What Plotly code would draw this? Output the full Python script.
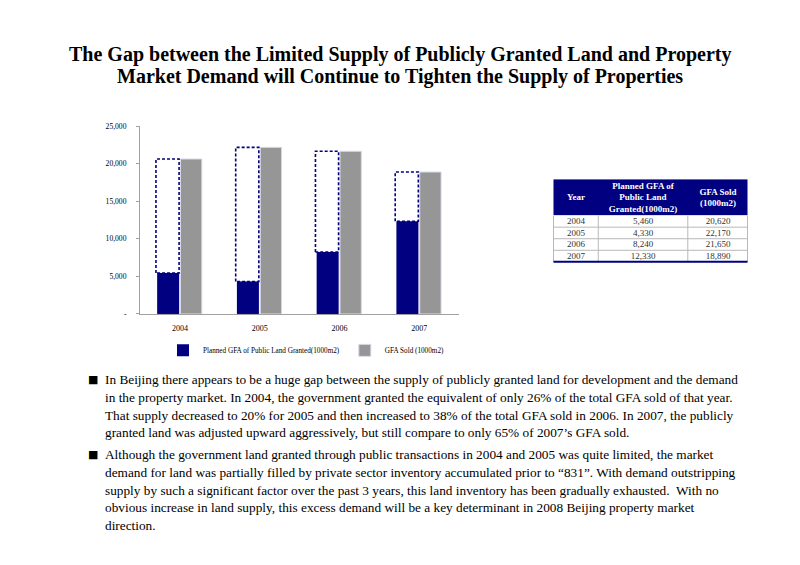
import plotly.graph_objects as go

years = ["2004", "2005", "2006", "2007"]
planned_gfa = [5460, 4330, 8240, 12330]
gfa_sold = [20620, 22170, 21650, 18890]
y_tick_vals = [0, 5000, 10000, 15000, 20000, 25000]
y_tick_text = ["-", "5,000", "10,000", "15,000", "20,000", "25,000"]
table_headers = ["Year", "Planned GFA of<br>Public Land<br>Granted(1000m2)", "GFA Sold<br>(1000m2)"]

title_lines = [
    "The Gap between the Limited Supply of Publicly Granted Land and Property",
    "Market Demand will Continue to Tighten the Supply of Properties",
]
para1 = [
    "In Beijing there appears to be a huge gap between the supply of publicly granted land for development and the demand",
    "in the property market. In 2004, the government granted the equivalent of only 26% of the total GFA sold of that year.",
    "That supply decreased to 20% for 2005 and then increased to 38% of the total GFA sold in 2006. In 2007, the publicly",
    "granted land was adjusted upward aggressively, but still compare to only 65% of 2007\u2019s GFA sold.",
]
para2 = [
    "Although the government land granted through public transactions in 2004 and 2005 was quite limited, the market",
    "demand for land was partially filled by private sector inventory accumulated prior to \u201c831\u201d. With demand outstripping",
    "supply by such a significant factor over the past 3 years, this land inventory has been gradually exhausted.  With no",
    "obvious increase in land supply, this excess demand will be a key determinant in 2008 Beijing property market",
    "direction.",
]

NAVY = "#000080"
GRAY = "#969696"
SERIF = "Liberation Serif, Times New Roman, serif"

# page body has an 8px margin; figure sized to fit the window
W, H, OFF = 784, 549, 8


def fx(px):
    return (px - OFF) / W


def fy(py):
    return 1 - (py - OFF) / H


xs = list(range(len(years)))
fig = go.Figure()

fig.add_trace(go.Bar(
    x=xs, y=planned_gfa, name="Planned GFA of Public Land Granted(1000m2)",
    marker=dict(color=NAVY, line=dict(width=0)), offset=-0.285, width=0.276,
))
fig.add_trace(go.Bar(
    x=xs, y=gfa_sold, name="GFA Sold (1000m2)",
    marker=dict(color=GRAY, line=dict(color="#d8d8e8", width=1)), offset=0.008, width=0.267,
))

# dashed gap outlines (from planned to sold)
gx, gy = [], []
for i, (p, s) in enumerate(zip(planned_gfa, gfa_sold)):
    x0, x1 = i - 0.30, i - 0.01
    gx += [x0, x0, x1, x1, x0, None]
    gy += [p, s, s, p, p, None]
fig.add_trace(go.Scatter(
    x=gx, y=gy, mode="lines", line=dict(color=NAVY, width=1.6, dash="3px,2px"),
    showlegend=False, hoverinfo="skip",
))

# ---- data table drawn as heatmap cells on their own axes ----
col_w = [45, 90, 60]
col_edges = [0]
for w in col_w:
    col_edges.append(col_edges[-1] + w)
header_h = 37
row_h = 11.75
n_rows = len(years)
row_edges = [header_h + row_h * k for k in range(n_rows + 1)]
total_h = row_edges[-1]

fig.add_trace(go.Heatmap(
    x=col_edges, y=[0, header_h], z=[[0] * len(col_w)],
    text=[[f"<b>{h}</b>" for h in table_headers]], texttemplate="%{text}",
    textfont=dict(color="white", size=9, family=SERIF),
    colorscale=[[0, NAVY], [1, NAVY]], showscale=False, hoverinfo="skip",
    xaxis="x2", yaxis="y2",
))
cell_text = [[y, f"{p:,}", f"{s:,}"] for y, p, s in zip(years, planned_gfa, gfa_sold)]
fig.add_trace(go.Heatmap(
    x=col_edges, y=row_edges, z=[[0] * len(col_w) for _ in years],
    text=cell_text, texttemplate="%{text}",
    textfont=dict(color="#333333", size=9, family=SERIF),
    colorscale=[[0, "white"], [1, "white"]], showscale=False, hoverinfo="skip",
    xaxis="x2", yaxis="y2",
))
lx, ly = [], []
for yv in row_edges[1:-1]:
    lx += [col_edges[0], col_edges[-1], None]
    ly += [yv, yv, None]
for xv in col_edges:
    lx += [xv, xv, None]
    ly += [header_h, total_h, None]
fig.add_trace(go.Scatter(
    x=lx, y=ly, mode="lines", line=dict(color="#b8b8b8", width=1),
    showlegend=False, hoverinfo="skip", xaxis="x2", yaxis="y2",
))
fig.add_trace(go.Scatter(
    x=[col_edges[0], col_edges[-1]], y=[total_h, total_h], mode="lines",
    line=dict(color=NAVY, width=2.2), showlegend=False, hoverinfo="skip",
    xaxis="x2", yaxis="y2",
))

annotations = []
for k, t in enumerate(title_lines):
    annotations.append(dict(
        text=f"<b>{t}</b>", x=fx(400), y=fy(51 + 23 * k), xref="paper", yref="paper",
        xanchor="center", yanchor="middle", showarrow=False,
        font=dict(family=SERIF, size=20, color="black"),
    ))


def add_para(lines, y_start):
    annotations.append(dict(
        text="\u25a0", x=fx(86), y=fy(y_start), xref="paper", yref="paper",
        xanchor="left", yanchor="middle", showarrow=False,
        font=dict(family="DejaVu Sans", size=11, color="black"),
    ))
    for k, t in enumerate(lines):
        annotations.append(dict(
            text=t, x=fx(103), y=fy(y_start + 18 * k), xref="paper", yref="paper",
            xanchor="left", yanchor="middle", showarrow=False,
            font=dict(family=SERIF, size=13.3, color="black"),
        ))


add_para(para1, 382)
add_para(para2, 458)

fig.update_layout(
    width=W, height=H, margin=dict(l=0, r=0, t=0, b=0),
    paper_bgcolor="white", plot_bgcolor="white",
    barmode="overlay", showlegend=True,
    legend=dict(orientation="h", x=fx(306), y=fy(352), xanchor="center", yanchor="middle",
                font=dict(family=SERIF, size=7.2, color="black"), itemwidth=30,
                tracegroupgap=0),
    annotations=annotations,
    xaxis=dict(domain=[fx(140), fx(459)], range=[-0.5, 3.5], tickvals=xs, ticktext=years,
               showline=True, linecolor="#a0a0a0", linewidth=1, ticks="", showgrid=False,
               zeroline=False, ticklabelstandoff=6,
               tickfont=dict(family=SERIF, size=8, color="black")),
    yaxis=dict(domain=[fy(315), fy(124)], range=[0, 25000], tickvals=y_tick_vals,
               ticktext=y_tick_text, showline=True, linecolor="#a0a0a0", linewidth=1,
               ticks="outside", ticklen=3, tickcolor="#a0a0a0", showgrid=False, zeroline=False,
               ticklabelstandoff=8,
               tickfont=dict(family=SERIF, size=7.6, color="black")),
    xaxis2=dict(domain=[fx(553), fx(748)], range=[col_edges[0] - 0.5, col_edges[-1] + 0.5],
                visible=False, fixedrange=True),
    yaxis2=dict(domain=[fy(263), fy(178)], range=[total_h + 1, 0],
                visible=False, fixedrange=True),
)

fig.write_html("out.html")
